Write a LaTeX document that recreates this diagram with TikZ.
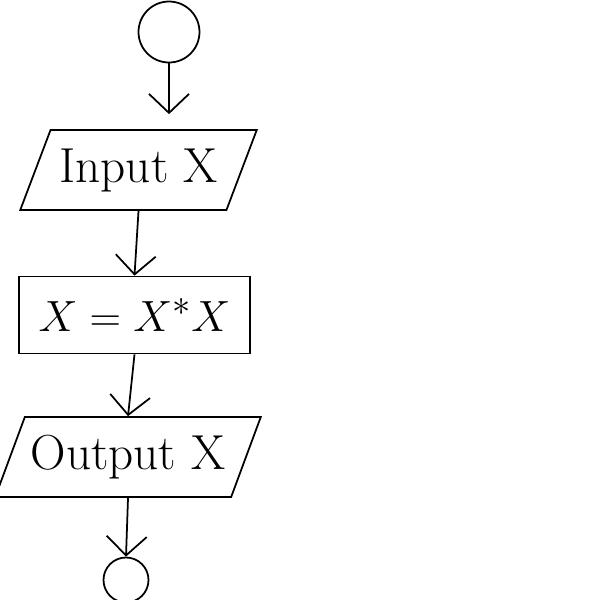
\documentclass[tikz,border=0pt]{standalone}
\usetikzlibrary{shapes.geometric,arrows.meta}
\begin{document}
\begin{tikzpicture}[x=0.02cm,y=-0.02cm]
    \tikzstyle{term}=[circle, draw, line width=1pt, inner sep=0pt]
    \tikzstyle{io}=[trapezium, draw, line width=1pt, trapezium stretches=true,
                            trapezium left angle=62, trapezium right angle=118,
                            minimum height=1.6cm, font=\fontsize{28}{34}\selectfont]
    \tikzstyle{proc}=[rectangle, draw, line width=1pt, minimum width=4.62cm,
                            minimum height=1.54cm, font=\fontsize{28}{34}\selectfont]
    \tikzstyle{flow}=[line width=1pt, -{Straight Barb[length=3.8mm,width=8mm]}]
    \useasboundingbox (0,0) rectangle (600,600);

    \node[term, minimum size=1.22cm] (start) at (169,32) {};
    \node[io, minimum width=4.74cm] (in) at (138.5,170) {Input X};
    \node[proc] (calc) at (134.5,315) {$X = X^{*} X$};
    \node[io, minimum width=4.86cm] (out) at (128,457) {Output X};
    \node[term, minimum size=0.9cm] (stop) at (126,580) {};

    \draw[flow, shorten >=0.3cm] (start.south) -- (start.south |- in.north);
    \draw[flow] (in.south) -- (calc.north);
    \draw[flow] (calc.south) -- (out.north);
    \draw[flow] (out.south) -- (stop.north);
\end{tikzpicture}
\end{document}
